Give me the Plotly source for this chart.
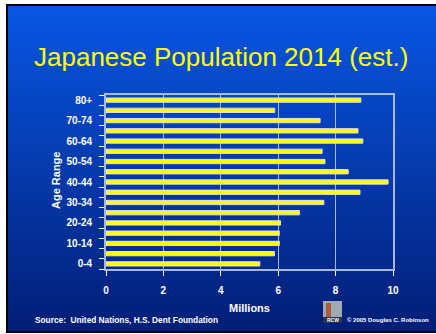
import plotly.graph_objects as go

# ---- data ----
age_groups = ["0-4", "5-9", "10-14", "15-19", "20-24", "25-29", "30-34", "35-39",
              "40-44", "45-49", "50-54", "55-59", "60-64", "65-69", "70-74", "75-79", "80+"]
population_millions = [5.36, 5.87, 6.04, 6.04, 6.08, 6.74, 7.59, 8.85,
                       9.83, 8.44, 7.63, 7.53, 8.95, 8.78, 7.46, 5.88, 8.88]
x_ticks = [0, 2, 4, 6, 8, 10]

title_text = "Japanese Population 2014 (est.)"
x_title = "Millions"
y_title = "Age Range"
source_text = "Source:\u00a0\u00a0United Nations, H.S. Dent Foundation"
copyright_text = "\u00a9 2005 Douglas C. Robinson"

# ---- layout geometry ----
W, H = 436, 334
L, R, T, B = 106, 43, 95, 65
PW, PH = W - L - R, H - T - B


def px2x(px):
    return (px - L) / PW


def py2y(py):
    return (H - B - py) / PH


positions = list(range(len(age_groups)))
label_pos = positions[::2]
label_text = age_groups[::2]
boundaries = [p - 0.5 for p in positions] + [positions[-1] + 0.5]

fig = go.Figure()
fig.add_trace(go.Bar(
    x=population_millions, y=positions, orientation="h", width=0.42,
    marker=dict(color="#ffff00", line=dict(color="rgba(225,225,235,0.95)", width=1)),
    hovertext=age_groups,
))

shapes = []
# outer black frame
shapes.append(dict(type="rect", xref="paper", yref="paper", layer="below",
                   x0=px2x(6), x1=px2x(437), y0=py2y(333), y1=py2y(4),
                   fillcolor="black", line=dict(width=0)))
# blue vertical gradient
top_c = (8, 86, 228)
bot_c = (2, 30, 118)
y_top, y_bot = 6, 331
n = 65
for i in range(n):
    a = y_top + (y_bot - y_top) * i / n
    b = y_top + (y_bot - y_top) * (i + 1) / n
    t = (i + 0.5) / n
    c = tuple(round(top_c[k] + (bot_c[k] - top_c[k]) * t) for k in range(3))
    shapes.append(dict(type="rect", xref="paper", yref="paper", layer="below",
                       x0=px2x(8), x1=px2x(437), y0=py2y(b + 0.5), y1=py2y(a),
                       fillcolor="rgb(%d,%d,%d)" % c, line=dict(width=0)))
# small logo
shapes.append(dict(type="rect", xref="paper", yref="paper", layer="above",
                   x0=px2x(323), x1=px2x(342), y0=py2y(323), y1=py2y(301),
                   fillcolor="rgb(160,170,178)", line=dict(width=0)))
shapes.append(dict(type="rect", xref="paper", yref="paper", layer="above",
                   x0=px2x(326), x1=px2x(331), y0=py2y(318), y1=py2y(303),
                   fillcolor="rgb(170,95,60)", line=dict(width=0)))
shapes.append(dict(type="rect", xref="paper", yref="paper", layer="above",
                   x0=px2x(323), x1=px2x(342), y0=py2y(323), y1=py2y(317),
                   fillcolor="rgb(40,50,80)", line=dict(width=0)))

annotations = [
    dict(text=title_text, x=px2x(221), y=py2y(57), xref="paper", yref="paper",
         showarrow=False, xanchor="center", yanchor="middle",
         font=dict(family="Liberation Sans, Arial", size=26, color="#ffff00")),
    dict(text=x_title, x=px2x(249), y=py2y(307.5), xref="paper", yref="paper",
         showarrow=False, xanchor="center", yanchor="middle",
         font=dict(family="Liberation Sans, Arial", size=11, color="white", weight="bold")),
    dict(text=y_title, x=px2x(56), y=py2y(181), xref="paper", yref="paper",
         showarrow=False, xanchor="center", yanchor="middle", textangle=-90,
         font=dict(family="Liberation Sans, Arial", size=11, color="white", weight="bold")),
    dict(text=source_text, x=px2x(33), y=py2y(319.5), xref="paper", yref="paper",
         showarrow=False, xanchor="left", yanchor="middle",
         font=dict(family="Liberation Sans, Arial", size=8.3, color="white", weight="bold")),
    dict(text=copyright_text, x=px2x(345), y=py2y(319.5), xref="paper", yref="paper",
         showarrow=False, xanchor="left", yanchor="middle",
         font=dict(family="Liberation Sans, Arial", size=6, color="white", weight="bold")),
    dict(text="RCW", x=px2x(332.5), y=py2y(320), xref="paper", yref="paper",
         showarrow=False, xanchor="center", yanchor="middle",
         font=dict(family="Liberation Sans, Arial", size=5, color="white", weight="bold")),
]

grid_c = "rgba(185,198,235,0.9)"
fig.update_layout(
    width=W, height=H,
    margin=dict(l=L, r=R, t=T, b=B, pad=0),
    paper_bgcolor="white",
    plot_bgcolor="rgba(0,0,0,0)",
    showlegend=False,
    shapes=shapes,
    annotations=annotations,
    xaxis=dict(
        range=[0, 10], tickmode="array", tickvals=x_ticks,
        showgrid=True, gridcolor=grid_c, gridwidth=1.3,
        showline=True, linecolor=grid_c, linewidth=1.8, mirror=True,
        ticks="outside", ticklen=5, tickcolor="white", tickwidth=1,
        ticklabelstandoff=6,
        tickfont=dict(family="Liberation Sans, Arial", size=10, color="white", weight="bold"),
        zeroline=False, fixedrange=True,
    ),
    yaxis=dict(
        range=[-0.5, len(age_groups) - 0.5], tickmode="array",
        tickvals=label_pos, ticktext=label_text,
        showgrid=False, zeroline=False,
        showline=True, linecolor=grid_c, linewidth=1.8, mirror=True,
        ticks="", ticklabelstandoff=10,
        minor=dict(tickmode="array", tickvals=boundaries, ticks="outside",
                   ticklen=5, tickcolor="white", tickwidth=1, showgrid=False),
        tickfont=dict(family="Liberation Sans, Arial", size=10, color="white", weight="bold"),
        fixedrange=True,
    ),
)

fig.write_html("out.html", config={"displayModeBar": False},
               post_script="document.body.style.margin='0px';document.body.style.overflow='hidden';")
